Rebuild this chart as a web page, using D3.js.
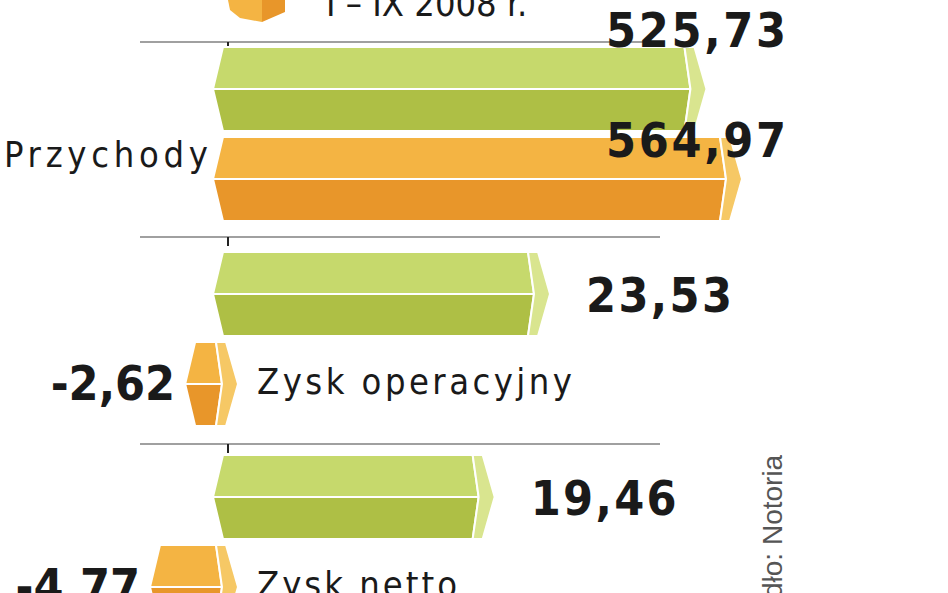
<!DOCTYPE html>
<html>
<head>
<script src="https://d3js.org/d3.v7.min.js"></script>
<style>
  body { margin: 0; background: #fff; }
  .val { font-family: "DejaVu Sans Condensed", "DejaVu Sans", sans-serif; font-weight: bold; font-size: 48px; fill: #1a1a1a; }
  .lab { font-family: "DejaVu Sans Condensed", "DejaVu Sans", sans-serif; font-size: 36px; fill: #1a1a1a; }
  .src { font-family: "Liberation Sans", sans-serif; font-size: 28px; fill: #555; }
</style>
</head>
<body>
<svg width="948" height="593"></svg>
<script>
const categories = ["Przychody", "Zysk operacyjny", "Zysk netto"];
const series2007 = [525.73, 23.53, 19.46];
const series2008 = [564.97, -2.62, -4.77];
const valueLabels2007 = ["525,73", "23,53", "19,46"];
const valueLabels2008 = ["564,97", "-2,62", "-4,77"];

const svg = d3.select("svg");
const zeroX = 228;
// revenue and profit use separate scales in the original
const revScale = d3.scaleLinear().domain([0, 564.97]).range([zeroX, 740]);
const profitScale = d3.scaleLinear().domain([-4.77, 0, 23.53]).range([150, zeroX, 548]);
const scales = [revScale, profitScale, profitScale];

const groupTop = [47, 252, 455];
const barH = 84, barGap = 6;
const colors = {
  g: { top: "#c6d96c", bot: "#aebf45", side: "#d9e58f" },
  o: { top: "#f4b443", bot: "#e8962a", side: "#f6c865" }
};

function bar(L, R, y, h, c) {
  const m = y + h / 2, g = svg.append("g");
  g.append("polygon").attr("fill", c.top).attr("stroke", "#fff").attr("stroke-width", 2)
    .attr("points", [[L + 10, y], [R, y], [R + 6, m], [L, m]].join(" "));
  g.append("polygon").attr("fill", c.bot).attr("stroke", "#fff").attr("stroke-width", 2)
    .attr("points", [[L, m], [R + 6, m], [R, y + h], [L + 10, y + h]].join(" "));
  g.append("polygon").attr("fill", c.side).attr("stroke", "#fff").attr("stroke-width", 2)
    .attr("points", [[R, y], [R + 10, y], [R + 22, m], [R + 10, y + h], [R, y + h], [R + 6, m]].join(" "));
}

// grid lines and zero ticks
[42, 237, 444].forEach(y => {
  svg.append("line").attr("x1", 140).attr("x2", 660).attr("y1", y).attr("y2", y)
    .attr("stroke", "#a0a0a0").attr("stroke-width", 2);
  svg.append("line").attr("x1", zeroX).attr("x2", zeroX).attr("y1", y).attr("y2", y + 9)
    .attr("stroke", "#222").attr("stroke-width", 2);
});

categories.forEach((cat, i) => {
  const s = scales[i];
  const y1 = groupTop[i], y2 = y1 + barH + barGap;
  const v1 = s(series2007[i]), v2 = s(series2008[i]);
  bar(zeroX - 15, v1 - 20, y1, barH, colors.g);
  if (series2008[i] >= 0) bar(zeroX - 15, v2 - 20, y2, barH, colors.o);
  else bar(v2, zeroX - 12, y2, barH, colors.o);
});

// value labels
svg.append("text").attr("class", "val").attr("x", 786).attr("y", 47).attr("text-anchor", "end").attr("textLength", 180).text(valueLabels2007[0]);
svg.append("text").attr("class", "val").attr("x", 786).attr("y", 157).attr("text-anchor", "end").attr("textLength", 180).text(valueLabels2008[0]);
[1, 2].forEach(i => {
  svg.append("text").attr("class", "val").attr("x", profitScale(series2007[i]) + 38)
    .attr("y", groupTop[i] + 60).attr("textLength", 146).text(valueLabels2007[i]);
  svg.append("text").attr("class", "val").attr("x", profitScale(series2008[i]) - 10)
    .attr("y", groupTop[i] + barH + barGap + 58).attr("text-anchor", "end").text(valueLabels2008[i]);
  svg.append("text").attr("class", "lab").attr("x", 257)
    .attr("y", groupTop[i] + barH + barGap + 52).attr("textLength", i === 1 ? 315 : 200).text(categories[i]);
});
svg.append("text").attr("class", "lab").attr("x", 4).attr("y", 167).attr("textLength", 204).text(categories[0]);

// legend (cropped at top)
svg.append("polygon").attr("fill", "#f4b443").attr("points", "228,0 262,0 262,22 240,18 230,10");
svg.append("polygon").attr("fill", "#e8962a").attr("points", "262,0 285,0 285,12 262,22");
svg.append("text").attr("class", "lab").attr("x", 326).attr("y", 16).text("I – IX 2008 r.");

// source
svg.append("text").attr("class", "src").attr("transform", "translate(782,640) rotate(-90)").text("Źródło: Notoria");
</script>
</body>
</html>
